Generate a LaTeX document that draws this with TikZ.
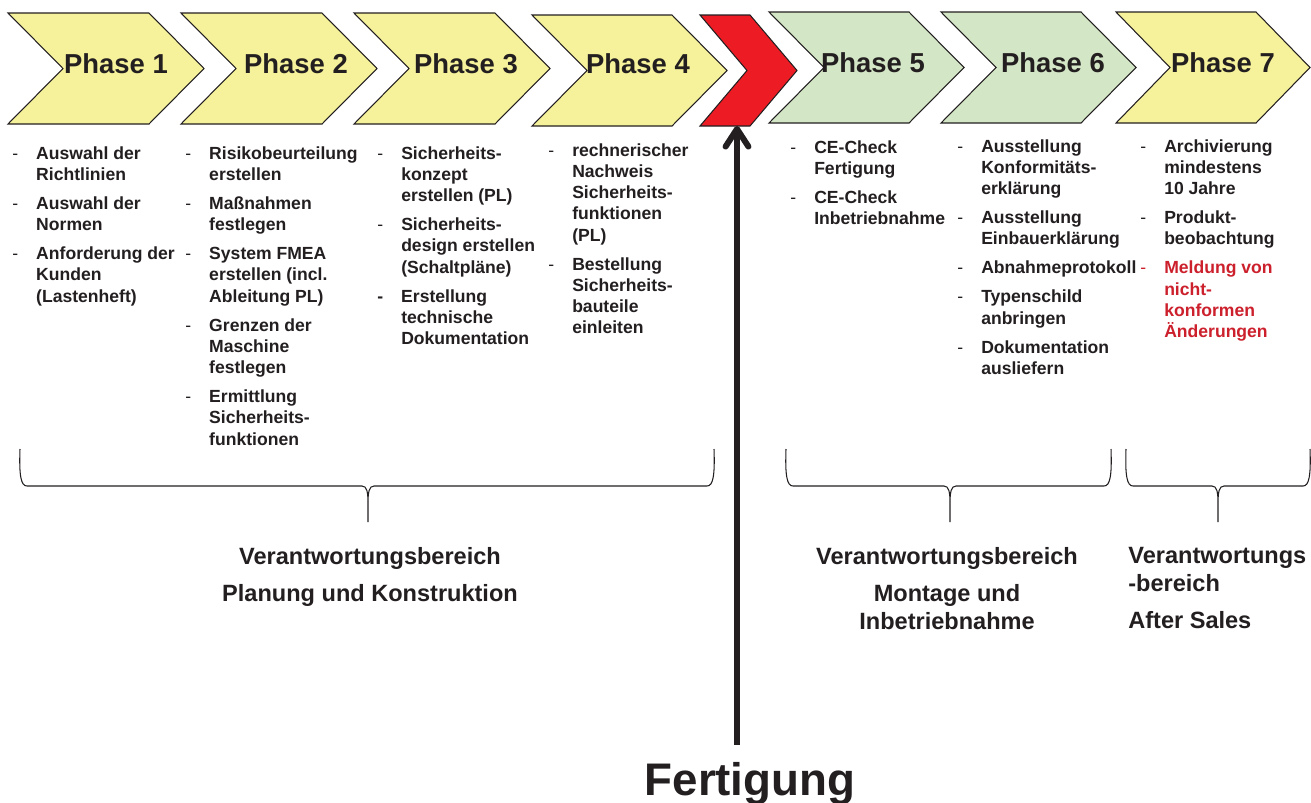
\documentclass[tikz,border=0pt]{standalone}
\usepackage{fontspec}
\setmainfont{Liberation Sans}
\usepackage{tikz}
\usetikzlibrary{arrows.meta, positioning, calc}
\definecolor{phaseyellow}{RGB}{246,242,155}
\definecolor{phasegreen}{RGB}{211,230,198}
\definecolor{cutred}{RGB}{237,28,36}
\definecolor{notered}{RGB}{204,32,44}
\definecolor{ink}{RGB}{35,31,32}

% chevron: left, top, flat part, tip depth, height, style
\newcommand{\chevron}[6]{%
  \draw[#6] (#1,#2) -- ++(#3,0) -- ++(#4,#5/2) -- ++(-#4,#5/2) -- ++(-#3,0) -- ++(#4,-#5/2) -- cycle;}
% brace opening downwards: left, middle, right
\newcommand{\rangebrace}[3]{%
  \draw[brace] (#1,449) .. controls (#1-1,476) and (#1+1,486) .. (#1+7,486) -- (#2-6,486)
    .. controls (#2-1,486) and (#2,492) .. (#2,504) -- (#2,522) -- (#2,504)
    .. controls (#2,492) and (#2+1,486) .. (#2+6,486) -- (#3-7,486)
    .. controls (#3-1,486) and (#3+1,476) .. (#3,449);}
\newcommand{\itemdash}{\mdseries -}
\newcommand{\itemgap}{4.4pt}

\begin{document}
\begin{tikzpicture}[x=0.02cm, y=-0.02cm,
        >=Stealth,
        phase/.style={draw=ink, line width=0.6pt, line join=miter},
        phasetext/.style={anchor=base, inner sep=0, text=ink, font=\fontsize{15.6}{18}\selectfont\bfseries},
        tasks/.style={anchor=base west, inner sep=0, text=ink, font=\fontsize{10}{12.1}\selectfont\bfseries},
        duty/.style={anchor=north, inner sep=0, text=ink, align=center, font=\fontsize{13.4}{15.9}\selectfont\bfseries},
        brace/.style={draw=ink, line width=0.6pt},
        fwd/.style={-{Straight Barb[length=10pt, width=13pt, round]}, draw=ink, line width=3.4pt},
    ]
    \fill[white] (0,0) rectangle (1311,802);
    \useasboundingbox (0,0) rectangle (1311,802);

    % phase chevrons
    \chevron{8}{13}{141}{55}{111}{phase, fill=phaseyellow}
    \chevron{181}{13}{141}{55}{111}{phase, fill=phaseyellow}
    \chevron{354}{13}{141}{55}{111}{phase, fill=phaseyellow}
    \chevron{532}{15}{140}{55}{111}{phase, fill=phaseyellow}
    \chevron{700}{15}{50}{47}{111}{phase, fill=cutred}
    \chevron{769}{12}{140}{55}{111}{phase, fill=phasegreen}
    \chevron{941}{12}{140}{55}{111}{phase, fill=phasegreen}
    \chevron{1116}{12}{140}{54}{111}{phase, fill=phaseyellow}
    \coordinate (cut) at (737,126);

    \node[phasetext] (p1) at (116,73) {Phase 1};
    \node[phasetext] (p2) at (296,73) {Phase 2};
    \node[phasetext] (p3) at (466,73) {Phase 3};
    \node[phasetext] (p4) at (638,73) {Phase 4};
    \node[phasetext] (p5) at (873,72) {Phase 5};
    \node[phasetext] (p6) at (1053,72) {Phase 6};
    \node[phasetext] (p7) at (1223,72) {Phase 7};

    % task lists
    \node[tasks] (t1) at (12,159) {\begin{tabular}[t]{@{}p{13.6pt}@{}l@{}}
        \itemdash & Auswahl der\\ & Richtlinien\\[\itemgap]
        \itemdash & Auswahl der\\ & Normen\\[\itemgap]
        \itemdash & Anforderung der\\ & Kunden\\ & (Lastenheft)
    \end{tabular}};
    \node[tasks] (t2) at (185,159) {\begin{tabular}[t]{@{}p{13.6pt}@{}l@{}}
        \itemdash & Risikobeurteilung\\ & erstellen\\[\itemgap]
        \itemdash & Maßnahmen\\ & festlegen\\[\itemgap]
        \itemdash & System FMEA\\ & erstellen (incl.\\ & Ableitung PL)\\[\itemgap]
        \itemdash & Grenzen der\\ & Maschine\\ & festlegen\\[\itemgap]
        \itemdash & Ermittlung\\ & Sicherheits-\\ & funktionen
    \end{tabular}};
    \node[tasks] (t3) at (377,159) {\begin{tabular}[t]{@{}p{13.6pt}@{}l@{}}
        \itemdash & Sicherheits-\\ & konzept\\ & erstellen (PL)\\[\itemgap]
        \itemdash & Sicherheits-\\ & design erstellen\\ & (Schaltpläne)\\[\itemgap]
        - & Erstellung\\ & technische\\ & Dokumentation
    \end{tabular}};
    \node[tasks] (t4) at (548,156) {\begin{tabular}[t]{@{}p{13.6pt}@{}l@{}}
        \itemdash & rechnerischer\\ & Nachweis\\ & Sicherheits-\\ & funktionen\\ & (PL)\\[\itemgap]
        \itemdash & Bestellung\\ & Sicherheits-\\ & bauteile\\ & einleiten
    \end{tabular}};
    \node[tasks] (t5) at (790,153) {\begin{tabular}[t]{@{}p{13.6pt}@{}l@{}}
        \itemdash & CE-Check\\ & Fertigung\\[\itemgap]
        \itemdash & CE-Check\\ & Inbetriebnahme
    \end{tabular}};
    \node[tasks] (t6) at (957,152) {\begin{tabular}[t]{@{}p{13.6pt}@{}l@{}}
        \itemdash & Ausstellung\\ & Konformitäts-\\ & erklärung\\[\itemgap]
        \itemdash & Ausstellung\\ & Einbauerklärung\\[\itemgap]
        \itemdash & Abnahmeprotokoll\\[\itemgap]
        \itemdash & Typenschild\\ & anbringen\\[\itemgap]
        \itemdash & Dokumentation\\ & ausliefern
    \end{tabular}};
    \node[tasks] (t7) at (1140,152) {\begin{tabular}[t]{@{}p{13.6pt}@{}l@{}}
        \itemdash & Archivierung\\ & mindestens\\ & 10 Jahre\\[\itemgap]
        \itemdash & Produkt-\\ & beobachtung\\[\itemgap]
        \textcolor{notered}{\itemdash} & \textcolor{notered}{Meldung von}\\
          & \textcolor{notered}{nicht-}\\ & \textcolor{notered}{konformen}\\ & \textcolor{notered}{Änderungen}
    \end{tabular}};

    % responsibility braces
    \rangebrace{20}{368}{714}
    \rangebrace{786}{950}{1111}
    \rangebrace{1126}{1218}{1310}

    \node[duty] (planning) at (370,547) {Verantwortungsbereich\\[5.4pt]Planung und Konstruktion};
    \node[duty] (assembly) at (947,547) {Verantwortungsbereich\\[5.4pt]Montage und\\Inbetriebnahme};
    \node[duty, anchor=north west, align=left] (aftersales) at (1128,547) {Verantwortungs\\-bereich\\[5.4pt]After Sales};

    % production
    \node[anchor=base, inner sep=0, text=ink, font=\fontsize{26}{30}\selectfont\bfseries] (fert) at (750,795) {Fertigung};
    \draw[fwd, shorten <=0.34cm] (fert.north -| cut) -- (cut);
\end{tikzpicture}
\end{document}
